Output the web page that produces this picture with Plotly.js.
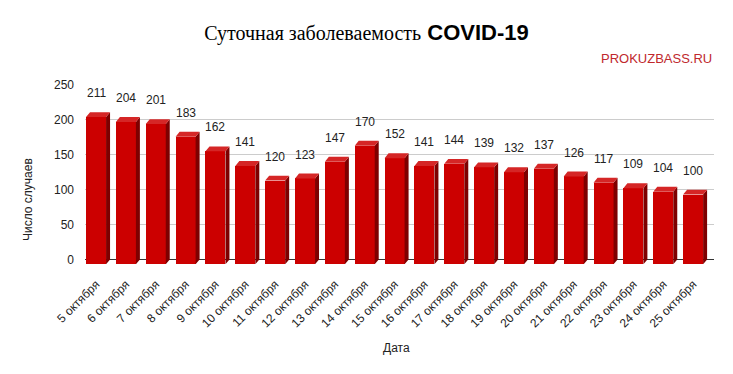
<!DOCTYPE html>
<html><head><meta charset="utf-8">
<script src="https://cdn.plot.ly/plotly-3.0.1.min.js"></script>
<style>html,body{margin:0;padding:0;background:#fff}#chart{width:733px;height:374px}</style>
</head><body><div id="chart"></div>
<script>
// Data
const dates = ["5 октября","6 октября","7 октября","8 октября","9 октября","10 октября","11 октября","12 октября","13 октября","14 октября","15 октября","16 октября","17 октября","18 октября","19 октября","20 октября","21 октября","22 октября","23 октября","24 октября","25 октября"];
const cases = [211,204,201,183,162,141,120,123,147,170,152,141,144,139,132,137,126,117,109,104,100];
const yTicks = [0,50,100,150,200,250];

// 3D look parameters (style only)
const W = 0.67;    // bar front width (category units)
const DX = 0.134;  // depth in x (category units)
const DY = 7;      // depth in y (value units)

const sideX = [], sideY = [], topX = [], topY = [];
cases.forEach((v, i) => {
  const l = i - W/2, r = i + W/2;
  sideX.push(r, r, r + DX, r + DX, r, null);
  sideY.push(-DY, v - DY, v, 0, -DY, null);
  topX.push(l, r, r + DX, l + DX, l, null);
  topY.push(v - DY, v - DY, v, v, v - DY, null);
});

const traces = [
  {type:'bar', x: dates, y: cases, base: cases.map(() => -DY), width: W,
   marker:{color:'#cc0000', line:{width:0}}, hoverinfo:'skip', showlegend:false},
  {type:'scatter', mode:'lines', x: sideX, y: sideY, xaxis:'x2', fill:'toself',
   fillcolor:'#7e0000', line:{width:0, color:'#7e0000'}, hoverinfo:'skip', showlegend:false},
  {type:'scatter', mode:'lines', x: topX, y: topY, xaxis:'x2', fill:'toself',
   fillcolor:'#d52626', line:{width:0, color:'#d52626'}, hoverinfo:'skip', showlegend:false}
];

const labelFont = {family:'Liberation Sans, Arial', size:12, color:'#222'};
const annotations = cases.map((v, i) => ({
  x: i, y: v, xref:'x2', yref:'y', text: String(v), showarrow:false,
  yanchor:'middle', yshift: 19, font: labelFont
}));
// plot area: left 85, width 629; top 85, height 180
annotations.push(
  {x: 1.0, y: (265-58)/180, xref:'paper', yref:'paper', xanchor:'right', yanchor:'middle',
   text:'PROKUZBASS.RU', showarrow:false, font:{family:'Liberation Sans, Arial', size:13, color:'#c0282d'}},
  {x: (396-85)/629, y: (265-348)/180, xref:'paper', yref:'paper', xanchor:'center', yanchor:'middle',
   text:'Дата', showarrow:false, font: labelFont},
  {x: (28-85)/629, y: (265-200)/180, xref:'paper', yref:'paper', xanchor:'center', yanchor:'middle',
   text:'Число случаев', textangle:-90, showarrow:false, font: labelFont}
);

const layout = {
  width: 733, height: 374,
  margin: {l:85, r:19, t:85, b:109},
  paper_bgcolor:'#fff', plot_bgcolor:'#fff',
  title: {
    text: "<span style=\"font-family:'Liberation Serif','Times New Roman',serif;font-size:20px\">Суточная заболеваемость</span> <b>COVID-19</b>",
    font: {family:'Liberation Sans, Arial', size:22, color:'#000'},
    x: 0.5, xref:'container', y: 1 - 32/374, yref:'container', yanchor:'middle'
  },
  xaxis: {type:'category', range:[-0.37, 20.7], showgrid:false, zeroline:false, showline:false,
    tickangle:-45, ticks:'', ticklabelstandoff:9,
    tickfont:{family:'Liberation Sans, Arial', size:12, color:'#222'}},
  xaxis2: {overlaying:'x', range:[-0.37, 20.7], visible:false, showgrid:false, zeroline:false},
  yaxis: {range:[-8, 250], tickvals: yTicks, ticks:'', showgrid:true, gridcolor:'#cccccc', gridwidth:1,
    zeroline:true, zerolinecolor:'#333333', zerolinewidth:1, showline:false, ticklabelstandoff:10,
    tickfont: labelFont},
  annotations: annotations,
  bargap: 0
};
Plotly.newPlot('chart', traces, layout, {staticPlot:true, displayModeBar:false});
</script></body></html>
